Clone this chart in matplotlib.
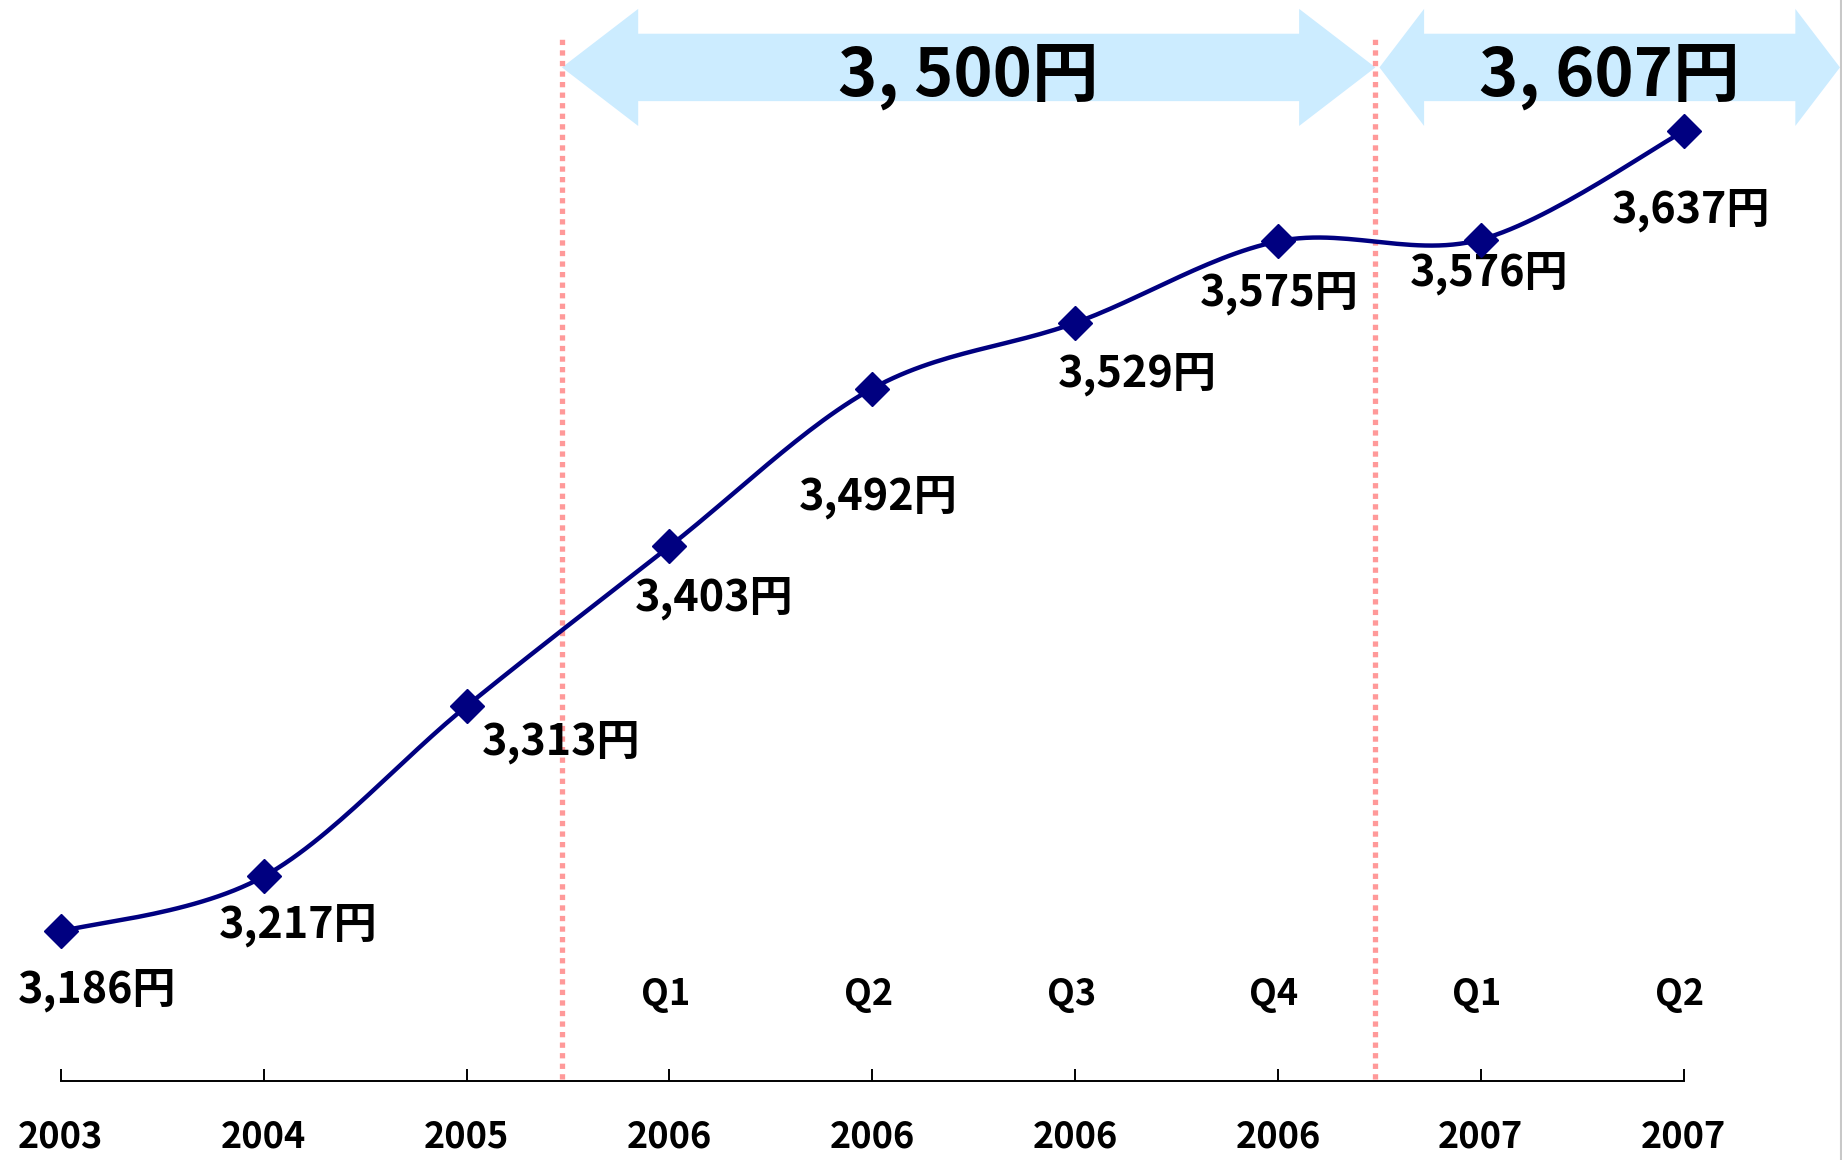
import numpy as np
import matplotlib.pyplot as plt
from matplotlib.patches import Polygon
from matplotlib.lines import Line2D

plt.rcParams['font.family'] = ['Noto Sans CJK JP', 'DejaVu Sans']

# data
years = ['2003', '2004', '2005', '2006', '2006', '2006', '2006', '2007', '2007']
quarters = ['', '', '', 'Q1', 'Q2', 'Q3', 'Q4', 'Q1', 'Q2']
prices = [3186, 3217, 3313, 3403, 3492, 3529, 3575, 3576, 3637]
period_avgs = ['3, 500円', '3, 607円']

# label offsets in points (dx, dy)
label_off = [(26, -42), (25, -35), (68, -26), (32, -37), (4, -78),
             (45, -37), (1, -37), (6, -24), (5, -57)]

x = np.arange(len(prices))
y = np.array(prices, dtype=float)

fig = plt.figure(figsize=(18.42, 11.60), dpi=100)
ax = fig.add_axes([0, 0.0681, 1, 0.9319])
ax.set_xlim(-0.30, 8.78)
ax.set_ylim(3101.7, 3711)

# smoothed line (catmull-rom style bezier, like excel)
def smooth(px, py, n=30):
    P = np.column_stack([px, py])
    P = np.vstack([P[0], P, P[-1]])
    out = []
    for i in range(1, len(P) - 2):
        p0, p1, p2, p3 = P[i - 1], P[i], P[i + 1], P[i + 2]
        c1 = p1 + (p2 - p0) / 6
        c2 = p2 - (p3 - p1) / 6
        t = np.linspace(0, 1, n)[:, None]
        seg = (1 - t)**3 * p1 + 3 * (1 - t)**2 * t * c1 + 3 * (1 - t) * t**2 * c2 + t**3 * p2
        out.append(seg if i == 1 else seg[1:])
    s = np.vstack(out)
    return s[:, 0], s[:, 1]

sx, sy = smooth(x, y)
ax.plot(sx, sy, color='#000080', lw=3.2, zorder=3)
ax.plot(x, y, 'D', color='#000080', ms=17, zorder=4)

for xi, yi, (dx, dy) in zip(x, prices, label_off):
    ax.annotate(f'{yi:,}円', (xi, yi), xytext=(dx, dy), textcoords='offset points',
                ha='center', va='center', fontsize=31, fontweight='bold')

# period dividers
divs = [2.47, 6.48]
for d in divs:
    ax.plot([d, d], [3103, 3692], color='#FF9999', lw=3.8,
            linestyle=(0, (1.0, 1.0)), zorder=2)

# block arrows
def block_arrow(x0, x1, head, yc=3673, hh=33, bh=19, color='#CCECFF'):
    pts = [(x0, yc), (x0 + head, yc + hh), (x0 + head, yc + bh), (x1 - head, yc + bh),
           (x1 - head, yc + hh), (x1, yc), (x1 - head, yc - hh), (x1 - head, yc - bh),
           (x0 + head, yc - bh), (x0 + head, yc - hh)]
    ax.add_patch(Polygon(pts, closed=True, color=color, lw=0, zorder=1))

spans = [(divs[0], divs[1], 0.376), (divs[1] + 0.02, 8.77, 0.22)]
for (a, b, h), lab in zip(spans, period_avgs):
    block_arrow(a, b, h)
    ax.text((a + b) / 2, 3672, lab, ha='center', va='center_baseline', fontsize=48,
            fontweight='bold', zorder=5)

# axis
for s in ['top', 'left', 'right']:
    ax.spines[s].set_visible(False)
ax.spines['bottom'].set_bounds(0, 8)
ax.spines['bottom'].set_linewidth(1.4)
ax.set_yticks([])
ax.set_xticks(x)
ax.set_xticklabels([])
ax.tick_params(axis='x', direction='in', length=9, width=1.4)

tr = ax.get_xaxis_transform()
for xi, yr, q in zip(x, years, quarters):
    ax.text(xi, -0.052, yr, transform=tr, ha='center', va='center',
            fontsize=26, fontweight='bold')
    if q:
        ax.text(xi - 0.02, 0.0796, q, transform=tr, ha='center', va='center',
                fontsize=26, fontweight='bold')

fig.add_artist(Line2D([0.9992, 0.9992], [0, 1], color='#C8C8C8', lw=1.5))

fig.savefig('out.png', dpi=100)
